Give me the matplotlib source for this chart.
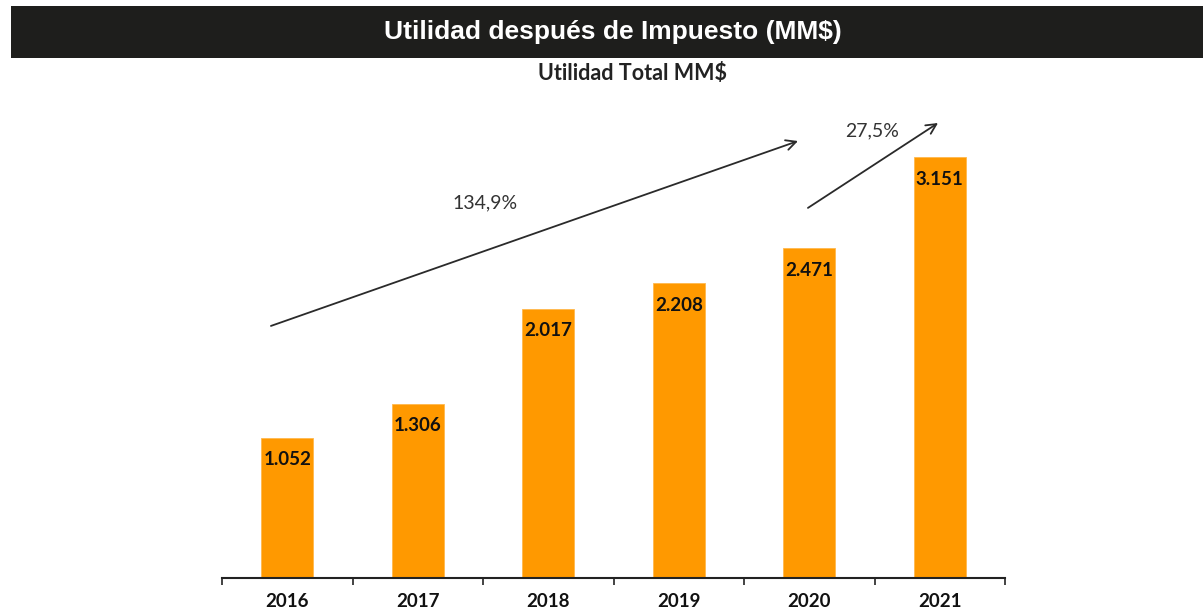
import matplotlib
matplotlib.use("Agg")
import matplotlib.pyplot as plt
from matplotlib.patches import Rectangle

years = ["2016", "2017", "2018", "2019", "2020", "2021"]
values = [1052, 1306, 2017, 2208, 2471, 3151]
value_labels = ["1.052", "1.306", "2.017", "2.208", "2.471", "3.151"]

growth_labels = ["134,9%", "27,5%"]
arrow_starts = [(-0.125, 1888), (3.99, 2772)]
arrow_ends = [(3.914, 3273), (4.987, 3408)]
growth_label_pos = [(1.515, 2809), (4.48, 3348)]

W, H = 1203, 611
fig = plt.figure(figsize=(W / 100, H / 100), dpi=100)

# title band
fig.patches.append(Rectangle((11 / W, 1 - 58 / H), 1192 / W, 52 / H,
                             transform=fig.transFigure, facecolor="#1e1e1c",
                             edgecolor="none", zorder=0))
fig.text(613 / W, 1 - 32 / H, "Utilidad después de Impuesto (MM$)",
         color="white", fontsize=19, fontweight="bold",
         family="Liberation Sans", ha="center", va="center")
fig.text(633 / W, 1 - 73 / H, "Utilidad Total MM$", color="#222222",
         fontsize=15.5, fontweight="bold", family="Lato", ha="center", va="center")

ax = fig.add_axes([222 / W, 1 - 578 / H, (1005 - 222) / W, (578 - 80) / H])
x = list(range(len(years)))
bars = ax.bar(x, values, width=0.4, color="#FF9900", edgecolor="#FFB84D", linewidth=0.6)
ax.set_xlim(-0.5, len(years) - 0.5)
ax.set_ylim(0, 3730)

for xi, v, lab in zip(x, values, value_labels):
    ax.annotate(lab, (xi, v), xytext=(0, -16), textcoords="offset points",
                ha="center", va="center", fontsize=13.5, fontweight="bold",
                family="Lato", color="#111111")

for s, e in zip(arrow_starts, arrow_ends):
    ax.annotate("", xy=e, xytext=s,
                arrowprops=dict(arrowstyle="->", color="#2a2a2a", lw=1.3,
                                mutation_scale=18, shrinkA=0, shrinkB=0),
                annotation_clip=False)
for lab, pos in zip(growth_labels, growth_label_pos):
    ax.text(pos[0], pos[1], lab, ha="center", va="center", fontsize=14,
            family="Lato", color="#333333")

for sp in ["top", "right", "left"]:
    ax.spines[sp].set_visible(False)
ax.spines["bottom"].set_linewidth(1.5)
ax.spines["bottom"].set_color("#222222")
ax.set_yticks([])
ax.set_xticks([i - 0.5 for i in range(len(years) + 1)])
ax.set_xticklabels([])
ax.tick_params(axis="x", which="major", length=5, width=1.2, color="#222222", direction="out")
ax.set_xticks(x, minor=True)
ax.set_xticklabels(years, minor=True, fontsize=13.5, fontweight="bold", family="Lato", color="#111111")
ax.tick_params(axis="x", which="minor", length=0, pad=11)

fig.savefig("out.png", dpi=100)
